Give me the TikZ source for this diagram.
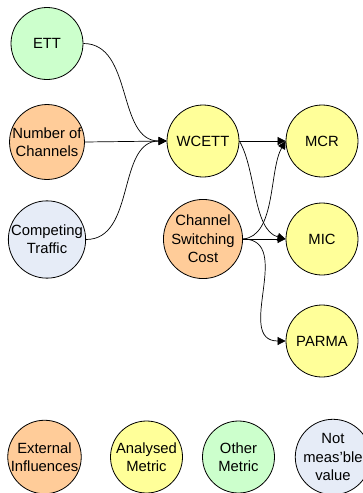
\documentclass[tikz,border=0pt]{standalone}
\usepackage{fontspec}
\setmainfont{Liberation Sans}
\usetikzlibrary{arrows.meta}
\definecolor{cgreen}{HTML}{CCFFCC}
\definecolor{corange}{HTML}{FFCC99}
\definecolor{cyellow}{HTML}{FFFF99}
\definecolor{cblue}{HTML}{E6ECF7}
\begin{document}
\begin{tikzpicture}[x=1pt,y=-1pt,
  nd/.style={circle,draw=black,line width=0.8pt,minimum size=72pt,inner sep=0pt,
    align=center,font=\fontsize{14.8}{18.3}\selectfont},
  ext/.style={nd,fill=corange},
  ana/.style={nd,fill=cyellow},
  oth/.style={nd,fill=cgreen},
  nmv/.style={nd,fill=cblue},
  conn/.style={line width=0.7pt,-{Triangle[length=8pt,width=8pt]}}]
\useasboundingbox (0,0) rectangle (362,493);
\node[oth] (ett) at (47,43.5) {ETT};
\node[ext] (noc) at (47,142) {Number of\\Channels};
\node[nmv] (ct) at (47,239.5) {Competing\\Traffic};
\node[ana] (wcett) at (203,141) {WCETT};
\node[ext] (csc) at (203,239) {Channel\\Switching\\Cost};
\node[ana] (mcr) at (322,141) {MCR};
\node[ana] (mic) at (322,239) {MIC};
\node[ana] (parma) at (322,341) {PARMA};
\node[ext] (l1) at (44.5,457) {External\\Influences};
\node[ana] (l2) at (146.5,457) {Analysed\\Metric};
\node[oth] (l3) at (238.5,457) {Other\\Metric};
\node[nmv] (l4) at (333,457) {Not\\meas'ble\\value};
\draw[conn] (ett.east) to[out=0,in=180] (wcett.west);
\draw[conn] (noc.east) -- (wcett.west);
\draw[conn] (ct.east) to[out=0,in=180] (wcett.west);
\draw[conn] (wcett.east) -- (mcr.west);
\draw[conn] (wcett.east) to[out=-60,in=165,looseness=0.8] (mic.west);
\draw[conn] (csc.east) to[out=5,in=240,looseness=0.8] (mcr.west);
\draw[conn] (csc.east) -- (mic.west);
\draw[conn] (csc.east) to[out=0,in=180,looseness=1.2] (parma.west);
\end{tikzpicture}
\end{document}
